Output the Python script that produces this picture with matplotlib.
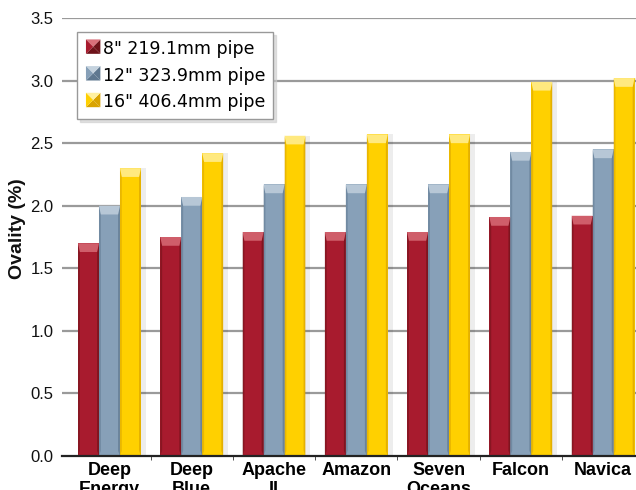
import matplotlib
matplotlib.use("Agg")
import matplotlib.pyplot as plt
from matplotlib.patches import Rectangle, Polygon
from matplotlib.legend_handler import HandlerPatch
import numpy as np

categories = ["Deep\nEnergy", "Deep\nBlue", "Apache\nII", "Amazon", "Seven\nOceans", "Falcon", "Navica"]
series_names = ['8" 219.1mm pipe', '12" 323.9mm pipe', '16" 406.4mm pipe']
pipe_8 = [1.70, 1.75, 1.79, 1.79, 1.79, 1.91, 1.92]
pipe_12 = [2.00, 2.07, 2.17, 2.17, 2.17, 2.43, 2.45]
pipe_16 = [2.30, 2.42, 2.56, 2.57, 2.57, 2.99, 3.02]
y_ticks = [0.0, 0.5, 1.0, 1.5, 2.0, 2.5, 3.0, 3.5]

colors = ["#A81B2E", "#87A0B8", "#FFD000"]
dark = ["#6E1219", "#5F7890", "#D9A300"]
light = ["#D9707A", "#C4D2DE", "#FFF0A0"]

plt.rcParams['font.family'] = ['Liberation Sans', 'DejaVu Sans']

fig = plt.figure(figsize=(6.36, 4.90), dpi=100)
ax = fig.add_axes([62/636, 34/490, 574/636, 438/490])

x = np.arange(len(categories))
w = 0.255
series = [pipe_8, pipe_12, pipe_16]

for yv in y_ticks[1:]:
    ax.axhline(yv, color="#9A9A9A", lw=1.6, zorder=0.5)

for k, vals in enumerate(series):
    xs = x + (k - 1) * w
    # shadow
    ax.bar(xs + 0.06, vals, width=w, color="#000000", alpha=0.07, zorder=1, align='center')
    bars = ax.bar(xs, vals, width=w, color=colors[k], zorder=2 + k * 0.01, edgecolor='none')
    for b in bars:
        x0, h, bw = b.get_x(), b.get_height(), b.get_width()
        e = bw * 0.09
        cap = 0.07
        ax.add_patch(Polygon([[x0, 0], [x0 + e, cap * 0.6], [x0 + e, h - cap], [x0, h]],
                             closed=True, color=dark[k], alpha=0.55, lw=0, zorder=2.5))
        ax.add_patch(Polygon([[x0 + bw, 0], [x0 + bw - e, cap * 0.6], [x0 + bw - e, h - cap], [x0 + bw, h]],
                             closed=True, color=dark[k], alpha=0.7, lw=0, zorder=2.5))
        ax.add_patch(Polygon([[x0, h], [x0 + bw, h], [x0 + bw - e, h - cap], [x0 + e, h - cap]],
                             closed=True, color=light[k], alpha=0.8, lw=0, zorder=2.5))

ax.set_xlim(-0.577, 6.40)
ax.set_ylim(0, 3.5)
ax.set_yticks(y_ticks)
ax.set_yticklabels([f"{v:.1f}" for v in y_ticks], fontsize=12, color='#111111')
ax.tick_params(axis='y', length=0, pad=6)
ax.set_xticks(x)
ax.set_xticklabels(categories, fontsize=13, fontweight='bold', linespacing=1.2)
ax.tick_params(axis='x', length=0, pad=4)
ax.set_xticks(x[:-1] + 0.5, minor=True)
ax.tick_params(axis='x', which='minor', length=3, color='#333333', direction='out')

for s in ['top', 'right', 'left']:
    ax.spines[s].set_visible(False)
ax.spines['bottom'].set_color('#222222')
ax.spines['bottom'].set_linewidth(1.6)
ax.set_ylabel("Ovality (%)", fontsize=14, fontweight='bold', color='#111111')
ax.yaxis.set_label_coords(-0.063, 0.52)


class SquareHandler(HandlerPatch):
    def __init__(self, k):
        super().__init__()
        self.k = k

    def create_artists(self, legend, orig_handle, xdescent, ydescent, width, height, fontsize, trans):
        s = min(width, height) * 1.0
        x0 = width - s
        y0 = (height - s) / 2
        k = self.k
        arts = []
        c = (x0 + s / 2, y0 + s / 2)
        corners = [(x0, y0), (x0 + s, y0), (x0 + s, y0 + s), (x0, y0 + s)]
        shades = [dark[k], dark[k], light[k], colors[k]]
        for i in range(4):
            p = Polygon([corners[i], corners[(i + 1) % 4], c], closed=True,
                        facecolor=shades[i], edgecolor='none', transform=trans)
            arts.append(p)
        return arts


handles = [Rectangle((0, 0), 1, 1, color=c) for c in colors]
leg = ax.legend(handles, series_names, loc='upper left', bbox_to_anchor=(0.026, 0.968),
                handler_map={h: SquareHandler(i) for i, h in enumerate(handles)},
                prop={'family': 'DejaVu Sans', 'size': 12.5}, frameon=True, fancybox=False,
                shadow={'color': '#cccccc', 'alpha': 0.6}, edgecolor='#999999', framealpha=1,
                handlelength=0.9, handleheight=0.9, handletextpad=0.15, labelspacing=0.5,
                borderpad=0.45, borderaxespad=0)
leg.get_frame().set_linewidth(1.0)
leg.set_zorder(10)

fig.savefig("out.png", dpi=100)
